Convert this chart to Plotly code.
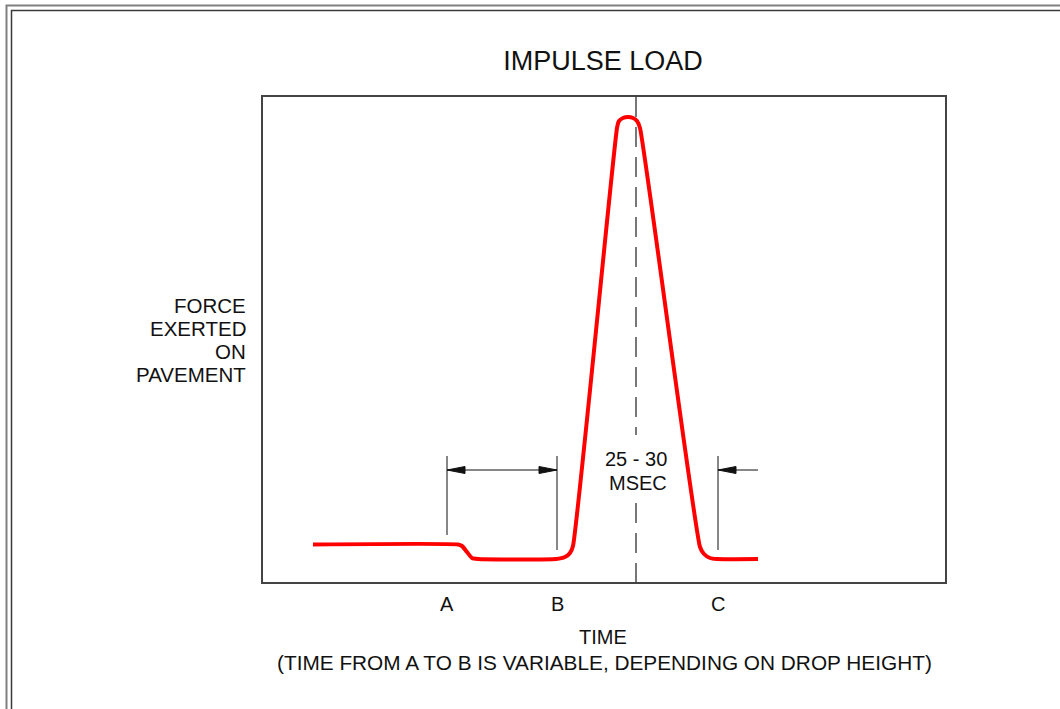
#impulse load sketch: force exerted on pavement vs time for a falling weight drop
#axis units are just the drawing units of the box (0-682 wide, 0-485 high), no real scale on the sketch

import plotly.graph_objects as go

#%%
#DATA
#red load trace
time = [50, 195, 199, 204, 209, 215, 293, 302, 307, 310, 354, 356, 360, 365, 370, 374, 377, 437, 441, 447, 454, 495]
force = [37.5, 37.5, 36, 30, 24, 23, 23, 25, 29, 36, 454, 461, 464, 465, 464, 461, 454, 35, 28, 24, 23, 23]

#centre line of the pulse, broken where the 25 - 30 MSEC text sits
peak_time = 373
centre_line_pieces = [[485, 147], [79, 0]]

#marker points A, B, C and the extension lines above them
marker_labels = ['A', 'B', 'C']
marker_times = [184, 294, 455]
marker_line_bottom = [47, 32, 32]
marker_line_top = [126, 126, 126]

#dimension arrows (A to B, and the one pointing at C)
arrow_level = 112
ab_arrow = [184, 294]
c_arrow = [455, 495]

msec_lines = ['25 - 30', 'MSEC']
force_lines = ['FORCE', 'EXERTED', 'ON', 'PAVEMENT']
title = 'IMPULSE LOAD'
xaxis_title = 'TIME'
note = '(TIME FROM A TO B IS VARIABLE, DEPENDING ON DROP HEIGHT)'

#%%
W, H = 1060, 709
L, R, T, B = 263, 945, 97, 582  #plot box in pixels
FONT = 'Liberation Sans, Arial, sans-serif'

def paper_x(px):
    return (px - L) / (R - L)

def paper_y(py):
    return (B - py) / (B - T)

fig = go.Figure()
fig.add_trace(go.Scatter(x=time, y=force, mode='lines', line=dict(color='#ff0000', width=4, shape='spline', smoothing=0.5),
                         hoverinfo='skip', showlegend=False))

shapes = []
#double frame round the whole drawing (runs off the right and bottom edge)
shapes.append(dict(type='rect', xref='paper', yref='paper', x0=paper_x(6.5), x1=paper_x(W + 20), y0=paper_y(5.5), y1=paper_y(H + 20),
                   line=dict(color='#808080', width=2)))
shapes.append(dict(type='rect', xref='paper', yref='paper', x0=paper_x(11.5), x1=paper_x(W + 20), y0=paper_y(10.5), y1=paper_y(H + 20),
                   line=dict(color='#3a3a3a', width=1.5)))

#dashed centre line through the peak (drawn top down so the dashes start at the top)
for y0, y1 in centre_line_pieces:
    shapes.append(dict(type='line', xref='x', yref='y', x0=peak_time, x1=peak_time, y0=y0, y1=y1,
                       line=dict(color='#777777', width=2, dash='20px,10px')))

#extension lines at A, B, C
for t, y0, y1 in zip(marker_times, marker_line_bottom, marker_line_top):
    shapes.append(dict(type='line', xref='x', yref='y', x0=t, x1=t, y0=y0, y1=y1, line=dict(color='#111111', width=1)))

#arrow shafts
for a in [ab_arrow, c_arrow]:
    shapes.append(dict(type='line', xref='x', yref='y', x0=a[0], x1=a[1], y0=arrow_level, y1=arrow_level, line=dict(color='#111111', width=1)))

#arrow heads, drawn in pixels round the tip so they keep their shape
def arrow_head(tip, direction):
    return dict(type='path', xref='x', yref='y', xsizemode='pixel', ysizemode='pixel', xanchor=tip, yanchor=arrow_level,
                path='M0,0 L{0},3.5 L{0},-3.5 Z'.format(18 * direction), fillcolor='#111111', line=dict(color='#111111', width=1))

shapes.append(arrow_head(ab_arrow[0], 1))   #points left at A
shapes.append(arrow_head(ab_arrow[1], -1))  #points right at B
shapes.append(arrow_head(c_arrow[0], 1))    #points left at C

annotations = []
text_font = dict(family=FONT, size=20, color='#111111')

#A B C under the box
for lab, t in zip(marker_labels, marker_times):
    annotations.append(dict(text=lab, xref='x', yref='paper', x=t, y=paper_y(603.5), showarrow=False,
                            xanchor='center', yanchor='middle', font=text_font))

#25 - 30 MSEC, right aligned
for txt, py in zip(msec_lines, [458.5, 483]):
    annotations.append(dict(text=txt, xref='paper', yref='paper', x=paper_x(669), y=paper_y(py), showarrow=False,
                            xanchor='right', yanchor='middle', font=text_font))

#y label, one line each so the spacing matches
for txt, py in zip(force_lines, [305, 328, 351.5, 374.5]):
    annotations.append(dict(text=txt, xref='paper', yref='paper', x=paper_x(248), y=paper_y(py), showarrow=False,
                            xanchor='right', yanchor='middle', font=dict(family=FONT, size=20.5, color='#111111')))

#x label and note
annotations.append(dict(text=xaxis_title, xref='paper', yref='paper', x=paper_x(603), y=paper_y(637), showarrow=False,
                        xanchor='center', yanchor='middle', font=text_font))
annotations.append(dict(text=note, xref='paper', yref='paper', x=paper_x(604), y=paper_y(662), showarrow=False,
                        xanchor='center', yanchor='middle', font=dict(family=FONT, size=20.8, color='#111111')))

axis_style = dict(showgrid=False, zeroline=False, showticklabels=False, ticks='', showline=True, mirror=True,
                  linecolor='#444444', linewidth=1.5, fixedrange=True)

fig.update_layout(width=W, height=H, margin=dict(l=L, r=W - R, t=T, b=H - B, pad=0),
                  paper_bgcolor='white', plot_bgcolor='white',
                  title=dict(text=title, x=603 / W, xanchor='center', y=1 - 60.5 / H, yanchor='middle',
                             font=dict(family=FONT, size=27, color='#111111')),
                  xaxis=dict(range=[0, R - L], **axis_style),
                  yaxis=dict(range=[0, B - T], **axis_style),
                  shapes=shapes, annotations=annotations, showlegend=False)

#page body has a default 8px margin, drop it so the figure sits at the window corner
fig.write_html("out.html", config={'displayModeBar': False},
               post_script="document.body.style.margin='0';document.body.style.overflow='hidden';")
